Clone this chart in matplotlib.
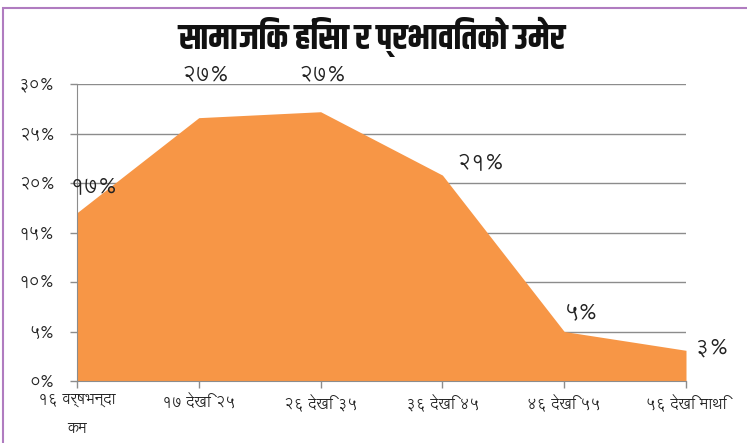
import matplotlib
matplotlib.use("Agg")
import matplotlib.pyplot as plt
from matplotlib.patches import Rectangle

title = "सामाजिक हिंसा र प्रभावितको उमेर"
categories = ["१६ वर्षभन्दा\nकम", "१७ देखि २५", "२६ देखि ३५", "३६ देखि ४५", "४६ देखि ५५", "५६ देखि माथि"]
values = [17.0, 26.6, 27.2, 20.8, 5.0, 3.1]
value_labels = ["१७%", "२७%", "२७%", "२१%", "५%", "३%"]
y_ticks = [0, 5, 10, 15, 20, 25, 30]
y_tick_labels = ["०%", "५%", "१०%", "१५%", "२०%", "२५%", "३०%"]

FONT = ["Lohit Devanagari", "Mukta", "DejaVu Sans"]
TFONT = ["Khand", "Hind", "DejaVu Sans"]

W, H = 747, 443
fig = plt.figure(figsize=(W / 100, H / 100), dpi=100)
ax = fig.add_axes([77 / W, 1 - 381 / H, (686 - 77) / W, (381 - 84) / H])

x = list(range(len(values)))
ax.fill_between(x, values, 0, color="#F79646", linewidth=0, zorder=2)

ax.set_xlim(0, len(values) - 1)
ax.set_ylim(0, 30)
ax.set_yticks(y_ticks)
ax.set_yticklabels(y_tick_labels, fontfamily=FONT, fontsize=12, color="#222222")
ax.set_xticks(x)
ax.set_xticklabels(categories, fontfamily=FONT, fontsize=11, color="#222222")
for t in ax.get_xticklabels():
    t.set_linespacing(2.6)
ax.grid(axis="y", color="#8c8c8c", linewidth=1.0, zorder=1)
ax.tick_params(axis="y", length=5, width=1, color="#8c8c8c", pad=11)
ax.tick_params(axis="x", length=5, width=1, color="#8c8c8c", pad=4)
for s in ["top", "right"]:
    ax.spines[s].set_visible(False)
ax.spines["left"].set_color("#8c8c8c")
ax.spines["bottom"].set_color("#8c8c8c")
ax.spines["left"].set_zorder(3)

offsets = [(17, 26), (7, 43), (2, 37), (38, 12), (17, 19), (26, 2)]
for i, (v, lab) in enumerate(zip(values, value_labels)):
    ax.annotate(lab, (x[i], v), xytext=offsets[i], textcoords="offset pixels",
                ha="center", va="center", fontfamily=FONT, fontsize=16,
                color="#222222", annotation_clip=False, zorder=4)

fig.text(372 / W, 1 - 37 / H, title, ha="center", va="center",
         fontfamily=TFONT, fontsize=25, fontweight="bold", color="#111111")

fig.patches.append(Rectangle((3 / W, -0.1), 1.2, 1 - 8 / H + 0.1,
                             transform=fig.transFigure, fill=False,
                             edgecolor="#b07cc0", linewidth=1.5))

fig.savefig("out.png", dpi=100)
